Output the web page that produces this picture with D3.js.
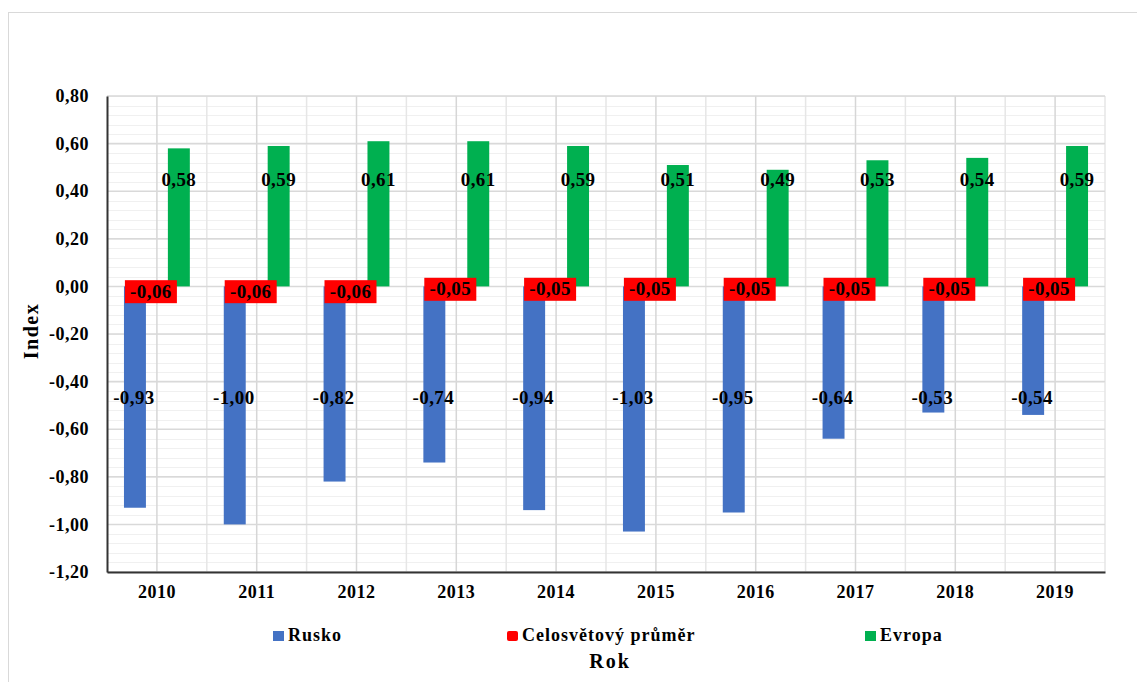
<!DOCTYPE html>
<html>
<head>
<meta charset="utf-8">
<script src="https://cdn.jsdelivr.net/npm/d3@7/dist/d3.min.js"></script>
<style>
  html, body { margin: 0; padding: 0; background: #fff; }
  svg { display: block; font-family: "Liberation Serif", "Times New Roman", serif; }
</style>
</head>
<body>
<svg id="chart" width="1137" height="682"></svg>
<script>
// Index by year: Russia, world average and Europe
const years = ["2010", "2011", "2012", "2013", "2014", "2015", "2016", "2017", "2018", "2019"];
const rusko = [-0.93, -1.00, -0.82, -0.74, -0.94, -1.03, -0.95, -0.64, -0.53, -0.54];
const celosvetovy = [-0.06, -0.06, -0.06, -0.05, -0.05, -0.05, -0.05, -0.05, -0.05, -0.05];
const evropa = [0.58, 0.59, 0.61, 0.61, 0.59, 0.51, 0.49, 0.53, 0.54, 0.59];
const seriesNames = ["Rusko", "Celosvětový průměr", "Evropa"];
const seriesColors = ["#4472C4", "#FF0000", "#00B050"];
const yTicks = [0.8, 0.6, 0.4, 0.2, 0.0, -0.2, -0.4, -0.6, -0.8, -1.0, -1.2];

const seriesValues = [rusko, celosvetovy, evropa];
// two decimals, decimal comma, plain hyphen as minus sign
const fmt = v => (v < 0 ? "-" : "") + Math.abs(v).toFixed(2).replace(".", ",");

const svg = d3.select("#chart");

// outer chart frame
svg.append("rect")
  .attr("x", 8.5).attr("y", 12.5)
  .attr("width", 1200).attr("height", 700)
  .attr("fill", "none").attr("stroke", "#d9d9d9").attr("stroke-width", 1);

const plot = { left: 107, right: 1105, top: 96, bottom: 572 };

const x = d3.scaleBand().domain(years).range([plot.left, plot.right]).padding(0);
const bw = x.bandwidth();
const xs = d3.scaleBand().domain(seriesNames).range([bw * 0.17, bw * 0.83]).padding(0);
const y = d3.scaleLinear().domain([-1.2, 0.8]).range([plot.bottom, plot.top]);

const g = svg.append("g");

// minor horizontal gridlines
const minor = d3.range(-1.2, 0.8001, 0.04).map(v => +v.toFixed(2));
g.append("g").selectAll("line").data(minor).join("line")
  .attr("x1", plot.left).attr("x2", plot.right)
  .attr("y1", d => Math.round(y(d)) + 0.5).attr("y2", d => Math.round(y(d)) + 0.5)
  .attr("stroke", "#f0f0f0").attr("stroke-width", 1);

// vertical gridlines: boundaries (light) and category centres (darker)
g.append("g").selectAll("line").data(years.slice(1).concat(["end"])).join("line")
  .attr("x1", d => d === "end" ? plot.right : x(d))
  .attr("x2", d => d === "end" ? plot.right : x(d))
  .attr("y1", plot.top).attr("y2", plot.bottom)
  .attr("stroke", "#e6e6e6").attr("stroke-width", 1.5);
g.append("g").selectAll("line").data(years).join("line")
  .attr("x1", d => x(d) + bw / 2).attr("x2", d => x(d) + bw / 2)
  .attr("y1", plot.top).attr("y2", plot.bottom)
  .attr("stroke", "#d6d6d6").attr("stroke-width", 1.5);

// major horizontal gridlines
g.append("g").selectAll("line").data(yTicks).join("line")
  .attr("x1", plot.left).attr("x2", plot.right)
  .attr("y1", d => y(d)).attr("y2", d => y(d))
  .attr("stroke", "#d9d9d9").attr("stroke-width", 1.5);

// bars
seriesNames.forEach((name, si) => {
  g.append("g").selectAll("rect").data(years).join("rect")
    .attr("x", d => x(d) + xs(name))
    .attr("width", xs.bandwidth())
    .attr("y", (d, i) => y(Math.max(0, seriesValues[si][i])))
    .attr("height", (d, i) => Math.abs(y(seriesValues[si][i]) - y(0)))
    .attr("fill", seriesColors[si]);
});

// axes
const yAxis = d3.axisLeft(y).tickValues(yTicks).tickSize(0).tickPadding(18).tickFormat(fmt);
const ya = svg.append("g").attr("transform", `translate(${plot.left},0)`).call(yAxis);
ya.select(".domain").attr("stroke", "#333").attr("stroke-width", 2);
ya.selectAll("text").attr("font-size", 18).attr("font-weight", "bold")
  .attr("letter-spacing", 0.5)
  .attr("font-family", "Liberation Serif").attr("fill", "#000");

const xAxis = d3.axisBottom(x).tickSize(0).tickPadding(13);
const xa = svg.append("g").attr("transform", `translate(0,${plot.bottom})`).call(xAxis);
xa.select(".domain").attr("stroke", "#333").attr("stroke-width", 2);
xa.selectAll("text").attr("font-size", 18).attr("font-weight", "bold")
  .attr("letter-spacing", 0.5)
  .attr("font-family", "Liberation Serif").attr("fill", "#000");

// data labels
const labels = svg.append("g").attr("font-weight", "bold").attr("font-size", 19)
  .attr("letter-spacing", 0.4).attr("fill", "#000");

labels.selectAll("text.ev").data(years).join("text").attr("class", "ev")
  .attr("x", d => x(d) + xs("Evropa") + xs.bandwidth() / 2)
  .attr("y", y(0.445) + 6)
  .attr("text-anchor", "middle")
  .text((d, i) => fmt(evropa[i]));

labels.selectAll("text.ru").data(years).join("text").attr("class", "ru")
  .attr("x", d => x(d) + xs("Rusko") + xs.bandwidth() / 2 - 1)
  .attr("y", y(-0.47) + 6)
  .attr("text-anchor", "middle")
  .text((d, i) => fmt(rusko[i]));

const cel = labels.selectAll("g.ce").data(years).join("g").attr("class", "ce")
  .attr("transform", (d, i) => `translate(${x(d) + xs("Celosvětový průměr") + xs.bandwidth() / 2 - 6},${y(celosvetovy[i]) - 9})`);
cel.append("rect").attr("x", -26).attr("y", -11.5).attr("width", 52).attr("height", 23).attr("fill", "#FF0000");
cel.append("text").attr("text-anchor", "middle").attr("y", 6).text((d, i) => fmt(celosvetovy[i]));

// axis titles
svg.append("text")
  .attr("transform", "translate(38,331) rotate(-90)")
  .attr("text-anchor", "middle").attr("font-size", 20).attr("font-weight", "bold")
  .attr("letter-spacing", 1.5)
  .text("Index");
svg.append("text")
  .attr("x", 610).attr("y", 668)
  .attr("text-anchor", "middle").attr("font-size", 20).attr("font-weight", "bold")
  .attr("letter-spacing", 2)
  .text("Rok");

// legend
const legendPos = [273, 507, 865];
const leg = svg.append("g").selectAll("g").data(seriesNames).join("g")
  .attr("transform", (d, i) => `translate(${legendPos[i]},631)`);
leg.append("rect").attr("width", 11).attr("height", 10).attr("rx", (d, i) => i === 1 ? 2 : 0)
  .attr("fill", (d, i) => seriesColors[i]);
leg.append("text").attr("x", 15).attr("y", 10)
  .attr("font-size", 18).attr("font-weight", "bold").attr("letter-spacing", 1).text(d => d);
</script>
</body>
</html>
